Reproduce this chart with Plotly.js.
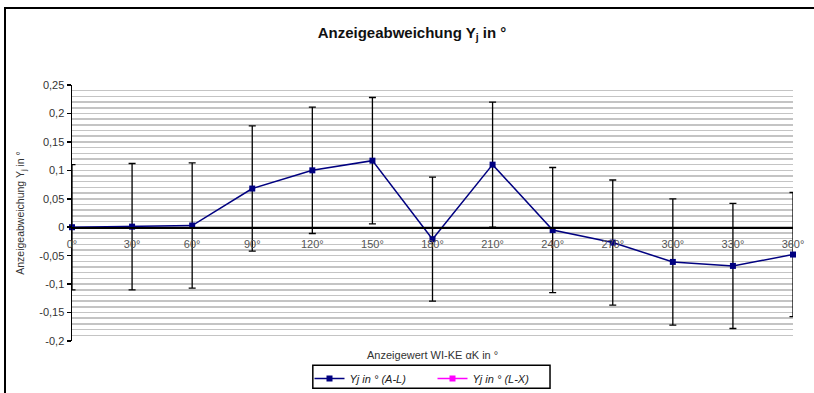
<!DOCTYPE html>
<html>
<head>
<meta charset="utf-8">
<script src="https://cdn.plot.ly/plotly-3.0.1.min.js"></script>
<style>
  html, body { margin: 0; padding: 0; background: #fff; }
  #wrap { position: relative; width: 814px; height: 393px; overflow: hidden; }
  #chart { position: absolute; left: 0; top: 0; width: 814px; height: 393px; }
  #frame { position: absolute; left: 4px; top: 7px; width: 820px; height: 400px;
           border-left: 2px solid #000; border-top: 2px solid #000; pointer-events: none; }
</style>
</head>
<body>
<div id="wrap"><div id="chart"></div><div id="frame"></div></div>
<script>
// ---- data ----
const angles = [0, 30, 60, 90, 120, 150, 180, 210, 240, 270, 300, 330, 360];
const angleLabels = ["0°", "30°", "60°", "90°", "120°", "150°", "180°", "210°", "240°", "270°", "300°", "330°", "360°"];
const yjAL = [0, 0.001, 0.003, 0.068, 0.100, 0.117, -0.021, 0.110, -0.005, -0.027, -0.061, -0.068, -0.048];
const errAL = [0.110, 0.111, 0.110, 0.110, 0.111, 0.111, 0.109, 0.110, 0.110, 0.110, 0.111, 0.110, 0.109];
const yjLX = [null, null, null, null, null, null, null, null, null, null, null, null, null];
const yTickVals = [0.25, 0.2, 0.15, 0.1, 0.05, 0, -0.05, -0.1, -0.15, -0.2];
const yTickText = ["0,25", "0,2", "0,15", "0,1", "0,05", "0", "-0,05", "-0,1", "-0,15", "-0,2"];
const yRange = [-0.2, 0.25];
const xRange = [0, 360];

const font = "Liberation Sans, Arial, sans-serif";

const traces = [
  {
    x: angles, y: yjAL, type: "scatter", mode: "lines+markers",
    name: "<i>Yj in ° (A-L)</i>",
    line: { color: "#000080", width: 1.5 },
    marker: { symbol: "square", size: 6, color: "#000080" },
    error_y: { type: "data", array: errAL, visible: true, color: "#000000", thickness: 1.3, width: 3.5 },
    cliponaxis: false
  },
  {
    x: angles, y: yjLX, type: "scatter", mode: "lines+markers",
    name: "<i>Yj in ° (L-X)</i>",
    line: { color: "#ff00ff", width: 1.5 },
    marker: { symbol: "square", size: 6, color: "#ff00ff" }
  }
];

const xPos = (0 - yRange[0]) / (yRange[1] - yRange[0]);

const layout = {
  width: 814, height: 393,
  margin: { l: 72, r: 21, t: 85, b: 52, autoexpand: false },
  paper_bgcolor: "#ffffff", plot_bgcolor: "#ffffff",
  font: { family: font, size: 10, color: "#333" },
  separators: ",.",
  title: {
    text: "<b>Anzeigeabweichung Y<sub>j</sub> in °</b>",
    font: { family: font, size: 15, color: "#111" },
    x: 412 / 814, xanchor: "center", y: 1 - 33 / 393, yanchor: "middle"
  },
  xaxis: {
    range: xRange, tickmode: "array", tickvals: angles, ticktext: angleLabels,
    anchor: "free", position: xPos,
    showline: true, linecolor: "#000", linewidth: 1.5,
    showgrid: false, zeroline: false,
    ticks: "outside", ticklen: 6, tickcolor: "rgba(0,0,0,0)",
    tickfont: { family: font, size: 11, color: "#555" }
  },
  yaxis: {
    range: yRange, tickmode: "array", tickvals: yTickVals, ticktext: yTickText,
    showline: true, linecolor: "#000", linewidth: 1.5,
    ticks: "outside", ticklen: 4, tickcolor: "#000", tickwidth: 1.5,
    showgrid: true, gridcolor: "#c4c4c4", gridwidth: 1.5,
    minor: { tick0: 0, dtick: 0.01, showgrid: true, gridcolor: "#c4c4c4", gridwidth: 1.5, ticks: "" },
    zeroline: false,
    tickfont: { family: font, size: 11, color: "#333" },
    title: { text: "Anzeigeabweichung Y<sub>j</sub> in °", font: { family: font, size: 10.5, color: "#333" }, standoff: 12 }
  },
  showlegend: true,
  legend: {
    orientation: "h", x: 0.5, xanchor: "center", y: -0.2035, yanchor: "bottom",
    borderwidth: 0, bgcolor: "rgba(0,0,0,0)",
    font: { family: font, size: 11, color: "#222" },
    itemwidth: 30, tracegroupgap: 0,
    entrywidth: 78, entrywidthmode: "pixels"
  },
  shapes: [
    {
      type: "rect", xref: "paper", yref: "paper",
      x0: 0.334, x1: 0.663, y0: -0.185, y1: -0.095,
      line: { color: "#000", width: 1.5 }, fillcolor: "rgba(0,0,0,0)", layer: "below"
    }
  ],
  annotations: [
    {
      text: "Anzeigewert WI-KE αK in °", xref: "paper", yref: "paper",
      x: 0.5, y: -0.022, xanchor: "center", yanchor: "top", showarrow: false,
      font: { family: font, size: 11, color: "#333" }
    }
  ]
};

Plotly.newPlot("chart", traces, layout, { displayModeBar: false, staticPlot: true });
</script>
</body>
</html>
